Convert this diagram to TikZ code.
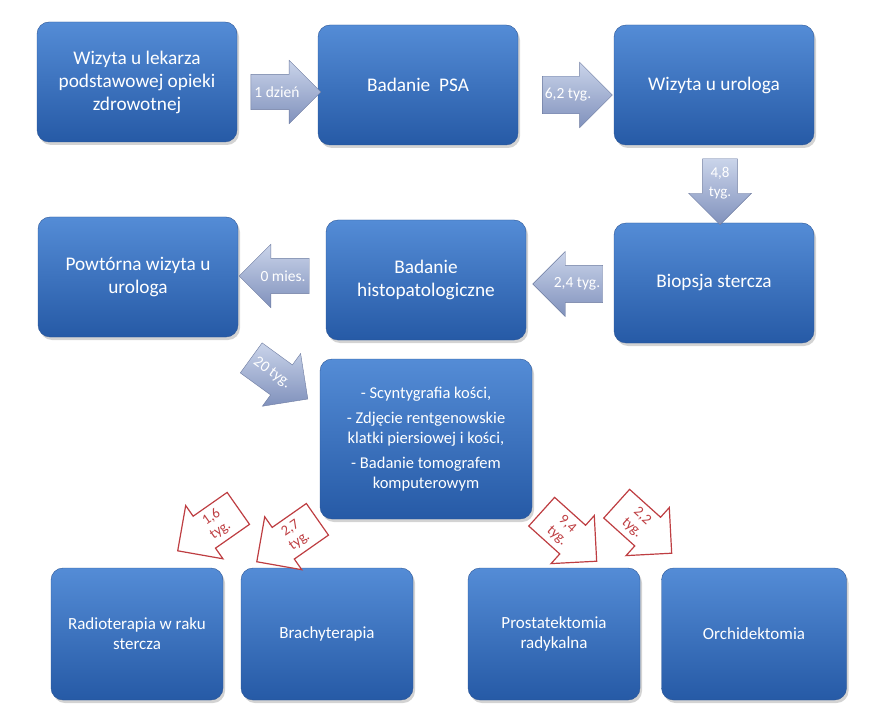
\documentclass[tikz,border=0pt]{standalone}
\usepackage{fontspec}
\setmainfont{Carlito}
\usepackage{tikz}
\usetikzlibrary{shapes,arrows,shadows}
\definecolor{boxtop}{RGB}{84,140,214}
\definecolor{boxbot}{RGB}{38,90,166}
\definecolor{boxline}{RGB}{44,86,150}
\definecolor{arrtop}{RGB}{202,212,234}
\definecolor{arrbot}{RGB}{128,145,188}
\definecolor{redline}{RGB}{190,62,66}
\tikzstyle{block} = [draw=boxline, rectangle, rounded corners=12pt, top color=boxtop, bottom color=boxbot, text=white, align=center, minimum width=200pt, minimum height=120pt, font=\fontsize{19.3}{23}\selectfont, drop shadow={opacity=0.35, shadow xshift=2pt, shadow yshift=-3pt}]
\tikzstyle{lowblock} = [block, minimum width=172pt, minimum height=132pt, font=\fontsize{17}{20}\selectfont]
\tikzstyle{pointer} = [single arrow, draw=arrbot!85!black, top color=arrtop, bottom color=arrbot, text=white, align=center, font=\fontsize{15.5}{18}\selectfont, minimum height=70pt, single arrow head extend=14pt, inner xsep=2pt, inner ysep=12pt]
\tikzstyle{redpointer} = [single arrow, draw=redline, line width=1.2pt, fill=white, text=redline, align=center, font=\fontsize{14.5}{15.5}\selectfont, minimum height=74pt, single arrow head extend=13pt, inner xsep=3pt, inner ysep=5pt]

\begin{document}
\begin{tikzpicture}[x=1pt,y=1pt]
		\useasboundingbox (0,0) rectangle (874,-708);
		% first row
		\node [block] (lekarz) at (137,-82) {Wizyta u lekarza\\podstawowej opieki\\zdrowotnej};
		\node [block, right of = lekarz, node distance=281pt, yshift=-3pt] (psa) {Badanie\ \ PSA};
		\node [block, right of = psa, node distance=296pt] (urolog) {Wizyta u urologa};
		
		% second row
		\node [block, below of = urolog, node distance=198pt] (biopsja) {Biopsja stercza};
		\node [block, left of = biopsja, node distance=288pt, yshift=3pt] (histo) {Badanie\\histopatologiczne};
		\node [block, left of = histo, node distance=288pt, yshift=3pt] (powtorna) {Powtórna wizyta u\\urologa};
		
		\node [lowblock, below of = histo, node distance=159pt, minimum width=212pt, minimum height=160pt, font=\fontsize{16.5}{20}\selectfont] (badania) {- Scyntygrafia kości,\\[5pt]- Zdjęcie rentgenowskie\\klatki piersiowej i kości,\\[5pt]- Badanie tomografem\\komputerowym};
		
		% leczenie
		\node [lowblock] (radio) at (137,-634) {Radioterapia w raku\\stercza};
		\node [lowblock, right of = radio, node distance=190pt] (brachy) {Brachyterapia};
		\node [lowblock, right of = brachy, node distance=227pt] (prostat) {Prostatektomia\\radykalna};
		\node [lowblock, right of = prostat, node distance=200pt, minimum width=185pt] (orchid) {Orchidektomia};
		
		% czasy
		\node [pointer] (t1) at (277,-92) {1 dzień};
		\node [pointer] (t2) at (568,-95) {6,2 tyg.};
		\node [pointer, shape border rotate=270, inner xsep=6pt, inner ysep=4pt, minimum height=66pt, font=\fontsize{15}{19}\selectfont] (t3) at (720,-183) {4,8\\tyg.};
		\node [pointer, shape border rotate=180] (t4) at (577,-284) {2,4 tyg.};
		\node [pointer, shape border rotate=180] (t5) at (283,-276) {0 mies.};
		\node [pointer, rotate=-36] (t6) at (272,-373) {20 tyg.};
		
		\node [redpointer, rotate=35, shape border rotate=180] (t7) at (216,-524) {1,6\\tyg.};
		\node [redpointer, rotate=35, shape border rotate=180] (t8) at (295,-535) {2,7\\tyg.};
		\node [redpointer, rotate=-42] (t9) at (562,-530) {9,4\\tyg.};
		\node [redpointer, rotate=-42] (t10) at (637,-522) {2,2\\tyg.};
		
\end{tikzpicture}
\end{document}
